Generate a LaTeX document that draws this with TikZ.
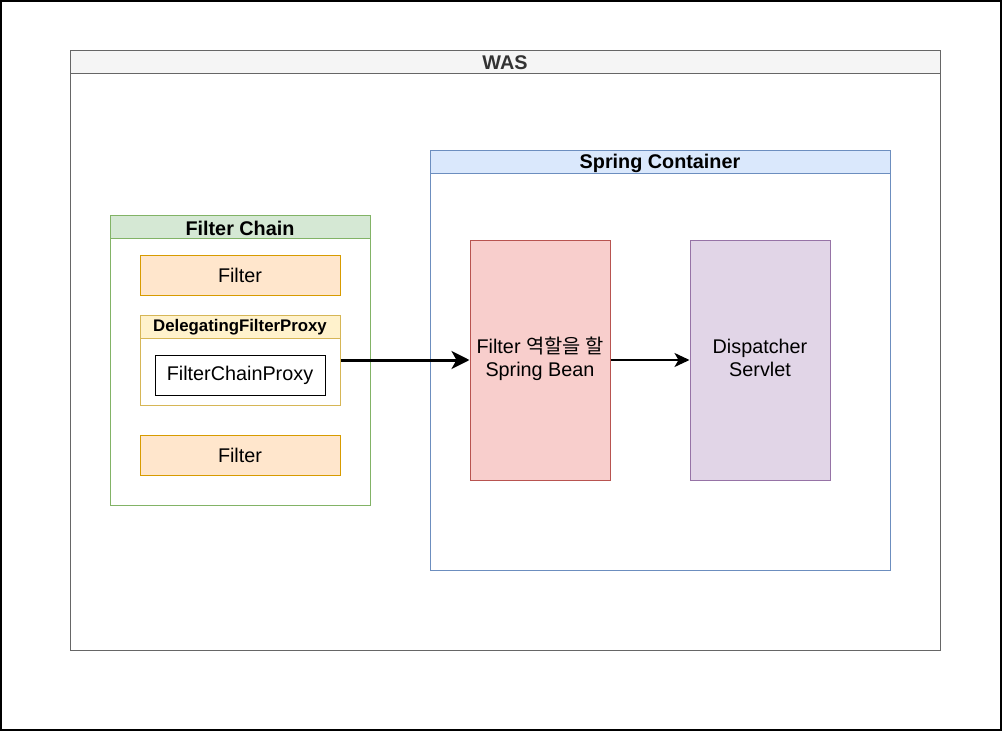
\documentclass[tikz,border=0pt]{standalone}
\usepackage{fontspec}
\setmainfont{Liberation Sans}
\newfontfamily\kr{Noto Sans CJK KR}
\usetikzlibrary{arrows.meta}
\definecolor{wasfill}{HTML}{F5F5F5}
\definecolor{wasline}{HTML}{666666}
\definecolor{wastext}{HTML}{333333}
\definecolor{scfill}{HTML}{DAE8FC}
\definecolor{scline}{HTML}{6C8EBF}
\definecolor{fcfill}{HTML}{D5E8D4}
\definecolor{fcline}{HTML}{82B366}
\definecolor{ffill}{HTML}{FFE6CC}
\definecolor{fline}{HTML}{D79B00}
\definecolor{dfill}{HTML}{FFF2CC}
\definecolor{dline}{HTML}{D6B656}
\definecolor{bfill}{HTML}{F8CECC}
\definecolor{bline}{HTML}{B85450}
\definecolor{pfill}{HTML}{E1D5E7}
\definecolor{pline}{HTML}{9673A6}
\tikzset{
  box/.style={draw, line width=1pt, inner sep=0pt, align=center, font=\fontsize{19.8}{23}\selectfont},
  ttl/.style={font=\bfseries\fontsize{19.8}{23}\selectfont, inner sep=0pt},
  conn/.style={-{Stealth[length=18pt,width=18pt,inset=5pt]}, line width=3pt},
  conn2/.style={-{Stealth[length=15pt,width=14pt,inset=4pt]}, line width=2pt},
}
\begin{document}
\begin{tikzpicture}[x=1pt,y=-1pt]
\useasboundingbox (0,0) rectangle (1002,731);
\draw[line width=2pt] (1,1) rectangle (1001,730);
% WAS
\draw[wasline, line width=1pt] (70,50) rectangle (940,650);
\draw[wasline, fill=wasfill, line width=1pt] (70,50) rectangle (940,73);
\node[ttl, text=wastext] (was) at (505,63) {WAS};
% Spring container
\draw[scline, line width=1pt] (430,150) rectangle (890,570);
\draw[scline, fill=scfill, line width=1pt] (430,150) rectangle (890,173);
\node[ttl] (sc) at (660,163) {Spring Container};
% Filter chain
\draw[fcline, line width=1pt] (110,215) rectangle (370,505);
\draw[fcline, fill=fcfill, line width=1pt] (110,215) rectangle (370,238);
\node[ttl] (fc) at (240,228) {Filter Chain};
% Filters
\node[box, draw=fline, fill=ffill, minimum width=200pt, minimum height=40pt] (f1) at (240,275) {\raisebox{-1.5pt}{Filter}};
\node[box, draw=fline, fill=ffill, minimum width=200pt, minimum height=40pt] (f2) at (240,455) {\raisebox{-1.5pt}{Filter}};
% Delegating
\node[box, draw=dline, fill=white, minimum width=200pt, minimum height=90pt] (dfp) at (240,360) {};
\draw[dline, fill=dfill, line width=1pt] (140,315) rectangle (340,338);
\node[ttl, font=\bfseries\fontsize{16.8}{20}\selectfont] (dt) at (240,327.5) {DelegatingFilterProxy};
\node[box, draw=black, fill=white, minimum width=170pt, minimum height=40pt] (fcp) at (240,375) {\raisebox{-1.5pt}{FilterChainProxy}};
% Spring bean
\node[box, draw=bline, fill=bfill, minimum width=140pt, minimum height=240pt] (bean) at (540,360) {\raisebox{-2.5pt}{\begin{tabular}{@{}c@{}}Filter {\kr 역할을 할}\\Spring Bean\end{tabular}}};
\node[box, draw=pline, fill=pfill, minimum width=140pt, minimum height=240pt] (ds) at (760,360) {\raisebox{-2.5pt}{\begin{tabular}{@{}c@{}}Dispatcher\\Servlet\end{tabular}}};
\draw[conn] (dfp.east) -- (bean.west);
\draw[conn2] (bean.east) -- (ds.west);
\end{tikzpicture}
\end{document}
